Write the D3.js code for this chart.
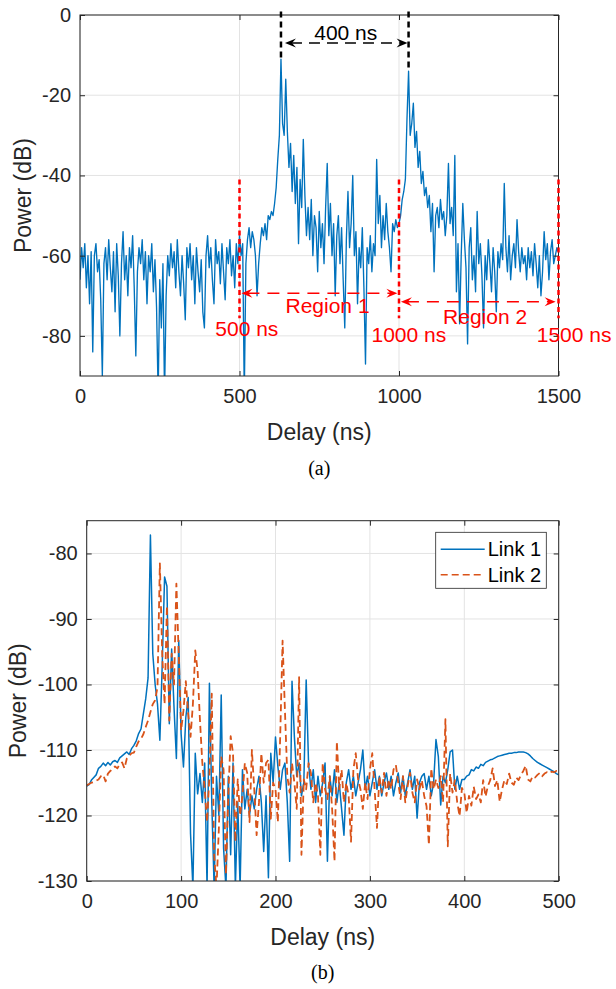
<!DOCTYPE html>
<html>
<head>
<meta charset="utf-8">
<script src="https://cdn.jsdelivr.net/npm/d3@7"></script>
<style>
  body { margin: 0; background: #fff; }
  text { font-family: "Liberation Sans", Arial, Helvetica, sans-serif; fill: #262626; }
</style>
</head>
<body>
<svg id="fig" width="616" height="989"></svg>
<script>
// ---- data: (a) power delay profile, one sample every 5 ns from 0 to 1500 ns
var topStep = 5;
var topPower = [
  -66, -58, -63, -57, -68, -60, -72, -59, -84, -60,
  -57, -64, -61, -71, -90, -62, -58, -66, -56, -63,
  -69, -59, -74, -57, -65, -80, -62, -54, -66, -60,
  -70, -58, -63, -55, -68, -85, -64, -58, -62, -56,
  -66, -59, -72, -60, -64, -57, -69, -61, -73, -95,
  -66, -78, -62, -95, -70, -60, -65, -57, -63, -59,
  -68, -56, -64, -70, -60, -67, -76, -58, -63, -57,
  -66, -60, -72, -58, -64, -69, -61, -74, -78, -60,
  -55, -63, -58, -66, -72, -56, -62, -59, -67, -57,
  -64, -71, -58, -62, -56, -65, -60, -68, -57, -62,
  -55, -60, -57, -95, -62, -56, -53, -58, -54, -56,
  -60, -70, -62, -57, -53, -55, -52, -56, -50, -51,
  -49, -50, -47, -43, -36, -30, -11, -27, -30, -16,
  -29, -38, -32, -44, -35, -47, -38, -57, -41, -48,
  -31, -45, -55, -48, -56, -46, -60, -50, -53, -64,
  -49, -58, -52, -62, -48, -37, -55, -47, -60, -52,
  -70, -55, -50, -62, -53, -66, -78, -56, -44, -58,
  -52, -40, -60, -54, -72, -58, -63, -53, -68, -87,
  -58, -62, -55, -64, -57, -60, -36, -52, -45, -58,
  -50, -56, -47, -54, -58, -64, -52, -54, -51, -53,
  -52, -50, -46, -44, -41, -26, -14, -30, -27, -22,
  -33, -29, -38, -34, -42, -39, -45, -43, -48, -45,
  -54, -47, -64, -50, -48, -53, -46, -51, -49, -55,
  -50, -37, -52, -48, -55, -35, -69, -57, -77, -60,
  -47, -56, -63, -82, -58, -53, -66, -60, -69, -49,
  -62, -57, -65, -78, -60, -66, -56, -62, -69, -58,
  -64, -74, -59, -63, -57, -61, -42, -58, -64, -55,
  -66, -60, -57, -63, -51, -59, -64, -58, -62, -60,
  -66, -58, -63, -59, -65, -57, -62, -68, -60, -70,
  -64, -54, -61, -57, -66, -59, -56, -62, -60, -58,
  -59
];
var topXTicks = [0, 500, 1000, 1500];
var topYTicks = [0, -20, -40, -60, -80];

// ---- data: (b) two links, one sample every 2.5 ns from 0 to 500 ns
var botStep = 2.5;
var link1Power = [
  -115.5, -115.3, -114.6, -114.2, -113.8, -112.8, -112.5, -112.0, -112.4, -111.9,
  -112.3, -111.8, -111.6, -111.9, -111.2, -110.9, -110.6, -110.3, -110.7, -109.8,
  -109.3, -108.6, -107.5, -106.8, -104.5, -102.2, -99.0, -77.2, -95.3, -100.0,
  -103.0, -108.5, -97.0, -83.6, -85.0, -106.0, -94.6, -103.5, -111.3, -93.3,
  -107.5, -112.6, -105.0, -102.0, -122.8, -131, -110.5, -116.7, -113.6, -118.0,
  -112.0, -131, -99.8, -118.0, -131, -114.0, -120.0, -101.6, -125.0, -131,
  -114.0, -126.0, -112.0, -131, -118.0, -131, -113.0, -119.0, -116.0, -120.0,
  -117.0, -119.0, -116.0, -114.0, -118.0, -125.5, -117.0, -129.5, -110.5, -115.0,
  -108.0, -112.5, -116.0, -113.0, -112.0, -118.0, -127.0, -99.5, -108.0, -114.0,
  -112.0, -117.0, -115.0, -99.3, -112.0, -116.0, -113.0, -118.0, -114.0, -117.0,
  -115.0, -112.0, -127.0, -114.0, -117.0, -113.0, -118.0, -115.0, -119.0, -123.0,
  -115.0, -113.0, -116.0, -114.0, -117.0, -115.0, -113.0, -110.0, -116.0, -114.0,
  -117.0, -115.0, -113.0, -116.0, -114.0, -117.0, -115.0, -113.5, -116.0, -114.0,
  -117.0, -115.0, -113.5, -116.5, -114.0, -117.0, -115.0, -113.0, -116.0, -114.0,
  -120.4, -115.0, -114.0, -113.6, -116.0, -114.0, -117.0, -115.0, -108.4, -111.0,
  -118.4, -114.0, -115.0, -113.0, -110.3, -110.0, -116.0, -114.0, -116.0, -114.5,
  -114.5, -114.0, -113.8, -113.0, -113.2, -112.6, -112.8, -112.2, -112.4, -111.9,
  -111.7, -111.5, -111.4, -111.2, -111.0, -110.9, -110.8, -110.7, -110.6, -110.5,
  -110.5, -110.4, -110.4, -110.3, -110.3, -110.3, -110.4, -110.6, -110.9, -111.3,
  -111.6, -111.9, -112.1, -112.3, -112.5, -112.7, -112.9, -113.1, -113.3, -113.6,
  -113.8
];
var link2Power = [
  -115.4, -115.2, -115.0, -114.9, -114.7, -114.5, -114.0, -113.8, -114.8, -113.6,
  -113.2, -112.9, -112.5, -112.8, -112.2, -111.9, -112.8, -111.3, -110.9, -110.5,
  -110.4, -109.5, -108.7, -108.3, -107.6, -106.5, -105.5, -104.2, -103.0, -102.4,
  -100.4, -81.5, -95.3, -103.0, -88.0, -105.5, -95.3, -100.0, -84.6, -95.5,
  -107.0, -104.0, -99.5, -104.5, -108.0, -103.0, -94.8, -97.9, -105.5, -112.0,
  -116.0, -121.0, -114.0, -101.4, -126.0, -131, -122.0, -111.0, -113.0, -129.0,
  -117.0, -107.9, -110.5, -124.0, -114.5, -120.0, -117.0, -112.0, -113.5, -121.0,
  -110.0, -116.0, -123.0, -118.0, -110.5, -115.0, -112.0, -111.5, -120.5, -115.0,
  -116.0, -121.0, -107.8, -93.3, -104.0, -114.0, -116.5, -112.0, -115.0, -119.0,
  -98.9, -126.0, -114.5, -116.0, -112.0, -113.5, -118.0, -115.0, -117.0, -126.0,
  -112.0, -116.0, -117.5, -114.0, -119.0, -127.0, -108.7, -116.0, -113.0, -118.0,
  -115.0, -117.0, -124.0, -113.0, -110.5, -114.5, -116.0, -119.0, -115.0, -117.5,
  -113.0, -110.5, -116.0, -121.9, -114.0, -116.5, -113.5, -117.0, -114.5, -116.0,
  -113.0, -112.3, -115.0, -117.5, -114.0, -118.0, -115.5, -113.5, -116.5, -118.0,
  -114.5, -116.0, -114.6, -117.0, -118.6, -124.5, -112.8, -116.0, -114.5, -115.8,
  -114.0, -118.0, -105.3, -124.7, -113.6, -116.5, -114.6, -118.0, -120.1, -115.8,
  -116.5, -119.6, -117.0, -118.5, -115.6, -117.5, -116.8, -118.0, -114.6, -117.1,
  -115.5, -114.6, -112.8, -115.5, -114.6, -117.9, -116.0, -114.6, -115.2, -113.6,
  -115.0, -115.3, -114.2, -114.6, -113.8, -113.2, -112.4, -114.5, -114.8, -114.0,
  -114.2, -113.8, -113.5, -114.0, -113.6, -113.4, -113.6, -113.3, -113.4, -113.2,
  -113.3
];
var linkNames = ["Link 1", "Link 2"];
var linkColors = ["#0072BD", "#D95319"];
var botXTicks = [0, 100, 200, 300, 400, 500];
var botYTicks = [-80, -90, -100, -110, -120, -130];

// annotation anchors (ns, dB)
var peakDelays = [630, 1030];
var peakPowers = [-11, -14];
var regionEdges = [500, 1000, 1500];

var svg = d3.select("#fig");
var axisColor = "#262626";
var gridColor = "#e3e3e3";

// scales
var xTop = d3.scaleLinear().domain([0, 1500]).range([80, 558.5]);
var yTop = d3.scaleLinear().domain([-90, 0]).range([376, 15]);
var xBot = d3.scaleLinear().domain([0, 500]).range([86.7, 558.7]);
var yBot = d3.scaleLinear().domain([-130, -75]).range([881, 520.7]);

function drawFrame(x, y, xticks, yticks, id) {
    var x0 = x.range()[0], x1 = x.range()[1];
    var y0 = y.range()[1], y1 = y.range()[0];
    var g = svg.append("g");

    // grid
    g.selectAll(".vg").data(xticks).enter().append("line")
        .attr("x1", d => x(d)).attr("x2", d => x(d))
        .attr("y1", y0).attr("y2", y1)
        .style("stroke", gridColor).style("stroke-width", 1);
    g.selectAll(".hg").data(yticks).enter().append("line")
        .attr("x1", x0).attr("x2", x1)
        .attr("y1", d => y(d)).attr("y2", d => y(d))
        .style("stroke", gridColor).style("stroke-width", 1);

    svg.append("clipPath").attr("id", id)
        .append("rect").attr("x", x0).attr("y", y0)
        .attr("width", x1 - x0).attr("height", y1 - y0);
    return g;
}

function drawAxes(x, y, xticks, yticks) {
    var x0 = x.range()[0], x1 = x.range()[1];
    var y0 = y.range()[1], y1 = y.range()[0];
    var fmt = d => String(d);

    var ax = [
        svg.append("g").attr("transform", "translate(0," + y1 + ")")
            .call(d3.axisBottom(x).tickValues(xticks).tickFormat(fmt).tickSizeInner(-5).tickSizeOuter(0).tickPadding(13)),
        svg.append("g").attr("transform", "translate(0," + y0 + ")")
            .call(d3.axisTop(x).tickValues(xticks).tickFormat("").tickSizeInner(-5).tickSizeOuter(0)),
        svg.append("g").attr("transform", "translate(" + x0 + ",0)")
            .call(d3.axisLeft(y).tickValues(yticks).tickFormat(fmt).tickSizeInner(-5).tickSizeOuter(0).tickPadding(9)),
        svg.append("g").attr("transform", "translate(" + x1 + ",0)")
            .call(d3.axisRight(y).tickValues(yticks).tickFormat("").tickSizeInner(-5).tickSizeOuter(0))
    ];
    ax.forEach(function(a) {
        a.select(".domain").remove();
        a.selectAll("line").style("stroke", axisColor);
        a.selectAll("text").style("font-size", "20px").style("fill", axisColor)
            .style("font-family", "'Liberation Sans', Arial, sans-serif");
    });

    svg.append("rect")
        .attr("x", x0).attr("y", y0)
        .attr("width", x1 - x0).attr("height", y1 - y0)
        .style("fill", "none").style("stroke", axisColor).style("stroke-width", 1);
}

function axisTitles(x, y, xTitleY, yTitleX, caption, captionY) {
    var cx = (x.range()[0] + x.range()[1]) / 2;
    var cy = (y.range()[0] + y.range()[1]) / 2;
    svg.append("text").attr("x", cx).attr("y", xTitleY)
        .attr("text-anchor", "middle").style("font-size", "23px")
        .text("Delay (ns)");
    svg.append("text")
        .attr("transform", "translate(" + yTitleX + "," + cy + ") rotate(-90)")
        .attr("text-anchor", "middle").style("font-size", "23px")
        .text("Power (dB)");
    svg.append("text").attr("x", cx).attr("y", captionY)
        .attr("text-anchor", "middle")
        .style("font-family", "'Liberation Serif', 'Times New Roman', serif")
        .style("font-size", "20px").style("fill", "#000")
        .text(caption);
}

function arrowHead(tipX, tipY, dir, color) {
    var L = 11, W = 4.5, N = 7;
    svg.append("path")
        .attr("d", "M" + tipX + "," + tipY +
            "L" + (tipX - dir * L) + "," + (tipY - W) +
            "L" + (tipX - dir * N) + "," + tipY +
            "L" + (tipX - dir * L) + "," + (tipY + W) + "Z")
        .style("fill", color);
}

function dashedArrow(xa, xb, yy, color, dash) {
    svg.append("line")
        .attr("x1", xa + 6).attr("x2", xb - 6).attr("y1", yy).attr("y2", yy)
        .style("stroke", color).style("stroke-width", 1.5)
        .style("stroke-dasharray", dash);
    arrowHead(xa, yy, -1, color);
    arrowHead(xb, yy, 1, color);
}

// ================= (a) =================
drawFrame(xTop, yTop, topXTicks, topYTicks, "clipTop");

var topLine = d3.line()
    .x((d, i) => xTop(i * topStep))
    .y(d => yTop(d));

svg.append("path")
    .datum(topPower)
    .attr("clip-path", "url(#clipTop)")
    .attr("d", topLine)
    .style("fill", "none")
    .style("stroke", "#0072BD")
    .style("stroke-width", 1.35)
    .style("stroke-linejoin", "round");

drawAxes(xTop, yTop, topXTicks, topYTicks);
axisTitles(xTop, yTop, 440, 31, "(a)", 475);

// black peak markers and 400 ns arrow
peakDelays.forEach(function(d, i) {
    svg.append("line")
        .attr("x1", xTop(d)).attr("x2", xTop(d))
        .attr("y1", yTop(0.9)).attr("y2", yTop(peakPowers[i]))
        .style("stroke", "#000").style("stroke-width", 2.5)
        .style("stroke-dasharray", "6,4");
});
dashedArrow(xTop(peakDelays[0]) + 4, xTop(peakDelays[1]) - 1, yTop(-7), "#000", "11,7");
svg.append("text")
    .attr("x", xTop((peakDelays[0] + peakDelays[1]) / 2) + 1)
    .attr("y", yTop(-6.2))
    .attr("text-anchor", "middle")
    .style("font-size", "21px").style("fill", "#000")
    .text((peakDelays[1] - peakDelays[0]) + " ns");

// red region markers
regionEdges.forEach(function(d) {
    svg.append("line")
        .attr("x1", xTop(d)).attr("x2", xTop(d))
        .attr("y1", yTop(-41)).attr("y2", yTop(-75.6))
        .style("stroke", "#ff0000").style("stroke-width", 2.5)
        .style("stroke-dasharray", "5,3.5");
});
dashedArrow(xTop(506), xTop(995), yTop(-69.4), "#ff0000", "12,8");
dashedArrow(xTop(1006), xTop(1491), yTop(-71.5), "#ff0000", "12,8");

var redLabels = [
    { text: "Region 1", x: 776, y: -74.3 },
    { text: "Region 2", x: 1270, y: -77.0 },
    { text: "500 ns", x: 523, y: -80.1 },
    { text: "1000 ns", x: 1031, y: -81.4 },
    { text: "1500 ns", x: 1549, y: -81.4 }
];
svg.selectAll(".redlab").data(redLabels).enter().append("text")
    .attr("x", d => xTop(d.x)).attr("y", d => yTop(d.y))
    .attr("text-anchor", "middle")
    .style("font-size", "21px").style("fill", "#ff0000")
    .text(d => d.text);

// ================= (b) =================
drawFrame(xBot, yBot, botXTicks, botYTicks, "clipBot");

var botLine = d3.line()
    .x((d, i) => xBot(i * botStep))
    .y(d => yBot(d));

var links = [link1Power, link2Power];
links.forEach(function(series, k) {
    svg.append("path")
        .datum(series)
        .attr("clip-path", "url(#clipBot)")
        .attr("d", botLine)
        .style("fill", "none")
        .style("stroke", linkColors[k])
        .style("stroke-width", k === 0 ? 1.5 : 1.8)
        .style("stroke-dasharray", k === 0 ? null : "7,4")
        .style("stroke-linejoin", "round");
});

drawAxes(xBot, yBot, botXTicks, botYTicks);
axisTitles(xBot, yBot, 945, 26, "(b)", 979);

// legend
var legend = svg.append("g").attr("transform", "translate(435.7,532.3)");
legend.append("rect")
    .attr("width", 110.6).attr("height", 56)
    .style("fill", "#fff").style("stroke", axisColor).style("stroke-width", 0.8);
linkNames.forEach(function(name, k) {
    var ly = 17 + k * 25.5;
    legend.append("line")
        .attr("x1", 5).attr("x2", 49).attr("y1", ly).attr("y2", ly)
        .style("stroke", linkColors[k]).style("stroke-width", 1.5)
        .style("stroke-dasharray", k === 0 ? null : "7,4");
    legend.append("text")
        .attr("x", 52).attr("y", ly + 7)
        .style("font-size", "20px").style("fill", "#000")
        .text(name);
});
</script>
</body>
</html>
